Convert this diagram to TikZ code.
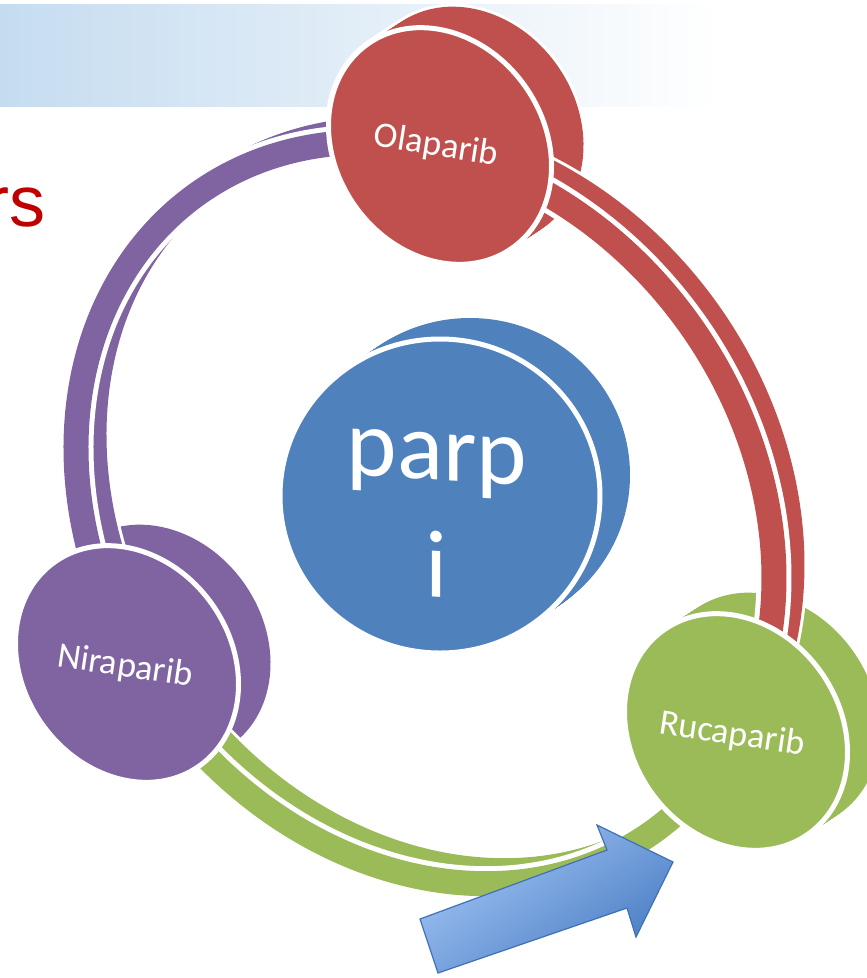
\documentclass[tikz,border=0pt]{standalone}
\usepackage{fontspec}
\newfontfamily\calibfont{Carlito}
\newfontfamily\arialfont{Liberation Sans}
\definecolor{olared}{HTML}{C0504D}
\definecolor{nirapurple}{HTML}{8064A2}
\definecolor{rucagreen}{HTML}{9BBB59}
\definecolor{parpblue}{HTML}{4F81BD}
\definecolor{bannerblue}{HTML}{C5DCF0}
\definecolor{titlered}{HTML}{C00000}
\definecolor{arrowlight}{HTML}{A3C6F5}
\definecolor{arrowdark}{HTML}{4A7DC4}
\definecolor{arrowedge}{HTML}{4070B5}

\tikzset{
  ring/.style 2 args={insert path={plot[domain=#1:#2, samples=100, variable=\t]
     ({425+227.6*cos(\t)-264.6*sin(\t)}, {513+319.1*cos(\t)+188.7*sin(\t)})}},
  disclabel/.style={text=white, font=\calibfont\fontsize{36}{43}\selectfont, inner sep=0pt},
}

% extruded body of a disc: many shifted copies with a white rim
\newcommand\discbody[7]{%
  \foreach \k in {0,...,24}{
    \draw[white, line width=6pt, shift={(#2)}, shift={({#6*\k/24},{#7*\k/24})}, rotate=#5]
      (0,0) ellipse [x radius=#3, y radius=#4];}
  \foreach \k in {0,...,24}{
    \fill[#1, shift={(#2)}, shift={({#6*\k/24},{#7*\k/24})}, rotate=#5]
      (0,0) ellipse [x radius=#3, y radius=#4];}
}
% front face of a disc
\newcommand\discface[5]{%
  \path[fill=#1, draw=white, line width=5pt, shift={(#2)}, rotate=#5]
    (0,0) ellipse [x radius=#3, y radius=#4];}
% one extruded segment of the ring
\newcommand\ringarc[3]{%
  \foreach \k in {0,...,20}{
    \draw[white, line width=31pt, shift={({18*\k/20},{-13*\k/20})}, ring={#2}{#3}];}
  \foreach \k in {0,...,20}{
    \draw[#1, line width=25pt, shift={({18*\k/20},{-13*\k/20})}, ring={#2}{#3}];}
  \draw[white, line width=35pt, ring={#2}{#3}];
  \draw[#1, line width=25pt, ring={#2}{#3}];
}

\begin{document}
\begin{tikzpicture}[x=1pt,y=-1pt]
\useasboundingbox (0,0) rectangle (867,978);
\clip (0,0) rectangle (867,978);
\fill[white] (0,0) rectangle (867,978);

% title banner and heading fragment
\shade[left color=bannerblue, right color=white] (0,4) rectangle (720,106);
\node[anchor=base east, text=titlered, font=\arialfont\fontsize{72}{86}\selectfont, inner sep=0pt]
  (heading) at (46,226) {rs};

\coordinate (ola) at (440,146);
\coordinate (nira) at (127,664);
\coordinate (ruca) at (736,732);
\coordinate (hub) at (440,496);

% back bodies of the three drug discs
\discbody{olared}{ola}{125}{104}{-54.5}{32}{-21}
\discbody{nirapurple}{nira}{125}{104}{-54.5}{32}{-21}
\discbody{rucagreen}{ruca}{125}{104}{-54.5}{32}{-21}

% ring segments between the discs
\ringarc{nirapurple}{109}{213}
\ringarc{olared}{229}{326}
\ringarc{rucagreen}{-18}{94}

% front faces and labels
\discface{olared}{ola}{125}{104}{-54.5}
\discface{nirapurple}{nira}{125}{104}{-54.5}
\discface{rucagreen}{ruca}{125}{104}{-54.5}
\node[disclabel, rotate=-9] (olaparib) at (436,146) {Olaparib};
\node[disclabel, rotate=-8.5] (niraparib) at (125,667) {Niraparib};
\node[disclabel, rotate=-8.5] (rucaparib) at (732,735) {Rucaparib};

% central disc
\discbody{parpblue}{hub}{160}{157}{0}{30}{-21}
\discface{parpblue}{hub}{160}{157}{0}
\node[text=white, font=\calibfont\fontsize{96}{117}\selectfont, align=center, yslant=-0.06, inner sep=0pt]
  (parpi) at (437,515) {parp\\i};

% block arrow
\shadedraw[top color=arrowlight, bottom color=arrowdark, shading angle=35, draw=arrowedge, line width=1.2pt]
  (420,919) -- (607,850) -- (597,825) -- (673,862) -- (636,937) -- (627,908) -- (438,973) -- cycle;
\end{tikzpicture}
\end{document}
